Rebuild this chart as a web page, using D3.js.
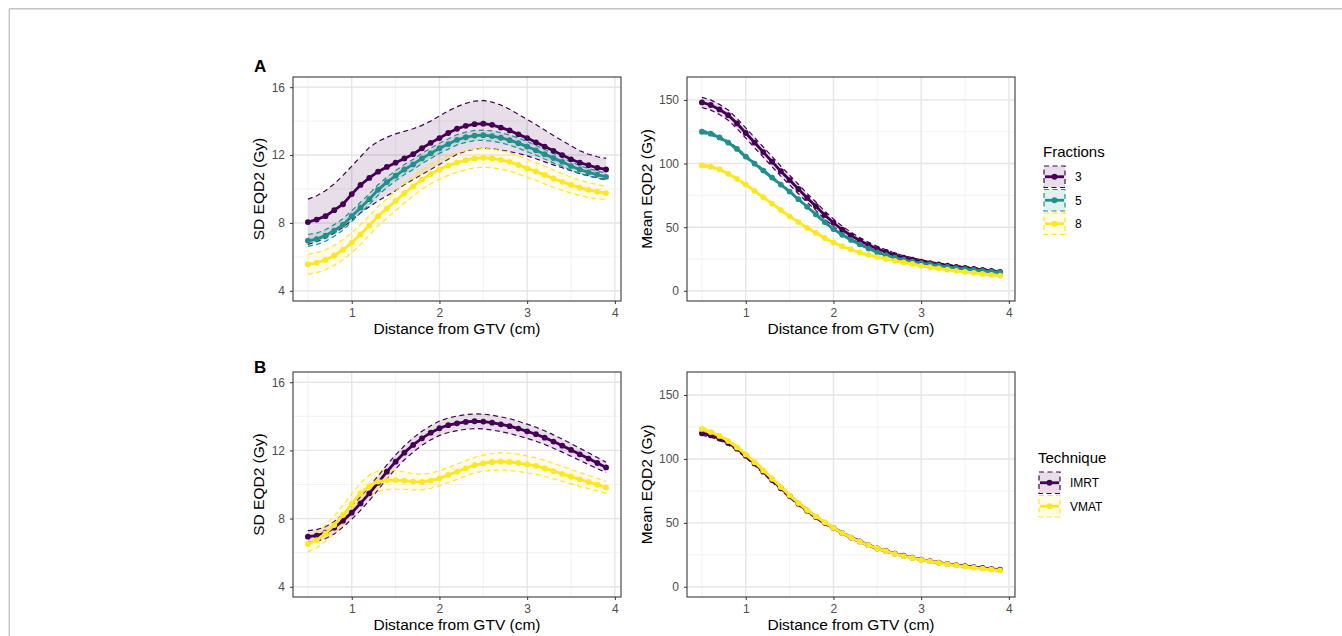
<!DOCTYPE html>
<html><head><meta charset="utf-8">
<script src="https://cdn.jsdelivr.net/npm/d3@7"></script>
<style>
html,body{margin:0;padding:0;background:#fff;}
svg{display:block;font-family:"Liberation Sans",Arial,sans-serif;}
</style></head>
<body><svg id="chart" width="1342" height="636"></svg>
<script>
// ---------- data ----------
const distance = [0.5,0.6,0.7,0.8,0.9,1.0,1.1,1.2,1.3,1.4,1.5,1.6,1.7,1.8,1.9,2.0,2.1,2.2,2.3,2.4,2.5,2.6,2.7,2.8,2.9,3.0,3.1,3.2,3.3,3.4,3.5,3.6,3.7,3.8,3.9];
const xTicks = [1,2,3,4];
const sdTicks = [4,8,12,16];
const meanTicks = [0,50,100,150];
const fractionLabels = ["3","5","8"];
const techniqueLabels = ["IMRT","VMAT"];

// Panel A left: SD EQD2 by fractions
const sdMean3 = [8.05,8.2,8.4,8.75,9.1,9.7,10.24,10.65,11.02,11.3,11.55,11.8,12.05,12.4,12.72,13.0,13.3,13.55,13.72,13.82,13.85,13.78,13.62,13.45,13.22,13.0,12.75,12.5,12.25,12.0,11.75,11.55,11.4,11.25,11.15];
const sdHi3 = [9.4,9.6,9.9,10.3,10.8,11.35,11.9,12.45,12.8,13.05,13.25,13.4,13.55,13.75,14.0,14.3,14.6,14.85,15.05,15.18,15.22,15.12,14.95,14.7,14.4,14.1,13.8,13.47,13.15,12.85,12.55,12.25,12.05,11.9,11.8];
const sdLo3 = [6.73,6.9,7.1,7.4,7.75,8.15,8.6,8.95,9.3,9.6,9.9,10.25,10.55,10.85,11.15,11.45,11.75,12.05,12.22,12.35,12.4,12.37,12.3,12.2,12.1,11.95,11.78,11.6,11.42,11.25,11.08,10.9,10.78,10.65,10.55];
const sdMean5 = [6.95,7.05,7.25,7.55,7.9,8.4,8.9,9.4,9.95,10.4,10.78,11.15,11.45,11.8,12.1,12.4,12.65,12.9,13.05,13.15,13.17,13.12,13.02,12.88,12.7,12.5,12.28,12.05,11.82,11.6,11.35,11.15,10.98,10.85,10.72];
const sdHi5 = [7.32,7.4,7.6,7.9,8.25,8.72,9.22,9.72,10.25,10.7,11.08,11.45,11.75,12.1,12.4,12.7,12.95,13.2,13.35,13.45,13.47,13.42,13.32,13.18,13.0,12.8,12.57,12.33,12.1,11.86,11.6,11.38,11.2,11.06,10.94];
const sdLo5 = [6.62,6.72,6.92,7.22,7.57,8.08,8.58,9.08,9.63,10.08,10.48,10.85,11.15,11.5,11.8,12.1,12.35,12.6,12.75,12.85,12.87,12.82,12.72,12.58,12.4,12.2,11.99,11.77,11.54,11.34,11.1,10.92,10.76,10.64,10.5];
const sdMean8 = [5.56,5.65,5.82,6.08,6.42,6.83,7.32,7.85,8.4,8.85,9.3,9.75,10.15,10.55,10.88,11.15,11.38,11.55,11.7,11.8,11.84,11.8,11.72,11.6,11.42,11.22,11.03,10.83,10.62,10.42,10.24,10.08,9.95,9.85,9.76];
const sdHi8 = [6.15,6.25,6.42,6.68,7.02,7.42,7.9,8.42,8.97,9.42,9.87,10.32,10.72,11.12,11.45,11.72,11.95,12.12,12.26,12.36,12.39,12.35,12.27,12.14,11.96,11.76,11.55,11.34,11.12,10.9,10.7,10.52,10.38,10.26,10.15];
const sdLo8 = [4.98,5.07,5.24,5.5,5.84,6.24,6.74,7.28,7.83,8.28,8.73,9.18,9.58,9.98,10.31,10.58,10.8,10.98,11.14,11.24,11.28,11.25,11.17,11.06,10.88,10.68,10.5,10.3,10.1,9.92,9.76,9.62,9.5,9.43,9.37];

// Panel A right: Mean EQD2 by fractions
const mnMean3 = [148,146,142.5,138,131.5,124,116.5,109,101.5,94,87,80,73,66.5,59.5,53.5,48,43.5,39.5,36,33,30.5,28,26,24.5,23,21.8,20.7,19.7,18.8,18,17.2,16.4,15.6,14.8];
const mnHi3 = [152,150,146.5,142,135.5,128,120.5,113,105.5,97.9,90.8,83.7,76.5,69.8,62.6,56.4,50.7,46,41.8,38.1,34.9,32.3,29.7,27.6,26,24.4,23.1,21.9,20.9,19.9,19.1,18.2,17.4,16.6,15.8];
const mnLo3 = [144,142,138.5,134,127.5,120,112.5,105,97.5,90.1,83.2,76.3,69.5,63.2,56.4,50.6,45.3,41,37.2,33.9,31.1,28.7,26.3,24.4,23,21.6,20.5,19.5,18.5,17.7,16.9,16.2,15.4,14.6,13.8];
const mnMean5 = [125,123.5,120.5,116.5,111.5,105.5,100,94.5,89,83.5,78,72,66,60,54,48.5,44,40,36.5,33.2,30.2,28,26,24.4,23,21.8,20.7,19.7,18.8,17.9,17.1,16.4,15.7,15.1,14.5];
const mnHi5 = [126.2,124.7,121.7,117.7,112.6,106.6,101.1,95.5,90,84.4,78.9,72.9,66.8,60.8,54.8,49.2,44.7,40.6,37.1,33.8,30.8,28.5,26.5,24.9,23.5,22.3,21.2,20.2,19.3,18.4,17.6,16.8,16.1,15.5,14.9];
const mnLo5 = [123.8,122.3,119.3,115.3,110.4,104.4,98.9,93.5,88,82.6,77.1,71.1,65.2,59.2,53.2,47.8,43.3,39.4,35.9,32.6,29.6,27.5,25.5,23.9,22.5,21.3,20.2,19.2,18.3,17.4,16.6,16,15.3,14.7,14.1];
const mnMean8 = [98.5,97.5,95.5,92,88,83.5,78.5,73.5,68.5,63.5,58.5,54,49.5,45.5,41.5,38,35,32.5,30.2,28.2,26.5,25,23.6,22.3,21.1,19.6,18.6,17.6,16.6,15.7,14.9,14.1,13.3,12.6,11.9];
const mnHi8 = [99.4,98.4,96.4,92.9,88.9,84.4,79.3,74.3,69.3,64.3,59.3,54.8,50.2,46.2,42.2,38.7,35.6,33.1,30.8,28.8,27.1,25.6,24.2,22.9,21.7,20.2,19.2,18.2,17.2,16.3,15.5,14.7,13.9,13.2,12.5];
const mnLo8 = [97.6,96.6,94.6,91.1,87.1,82.6,77.7,72.7,67.7,62.7,57.7,53.2,48.8,44.8,40.8,37.3,34.4,31.9,29.6,27.6,25.9,24.4,23,21.7,20.5,19,18,17,16,15.1,14.3,13.5,12.7,12,11.3];

// Panel B left: SD EQD2 by technique
const sdMeanImrt = [6.94,7.0,7.17,7.47,7.88,8.35,8.89,9.48,10.1,10.75,11.34,11.87,12.32,12.71,13.04,13.3,13.48,13.59,13.67,13.71,13.69,13.63,13.53,13.42,13.28,13.12,12.95,12.75,12.52,12.28,12.03,11.77,11.52,11.26,11.0];
const sdHiImrt = [7.29,7.35,7.52,7.83,8.25,8.73,9.28,9.88,10.5,11.15,11.74,12.27,12.73,13.12,13.45,13.72,13.9,14.02,14.1,14.14,14.13,14.07,13.97,13.86,13.71,13.54,13.36,13.15,12.91,12.66,12.4,12.13,11.86,11.58,11.31];
const sdLoImrt = [6.62,6.67,6.82,7.1,7.5,7.96,8.48,9.06,9.68,10.33,10.92,11.45,11.9,12.3,12.62,12.88,13.05,13.16,13.24,13.28,13.26,13.2,13.1,12.99,12.85,12.7,12.54,12.35,12.13,11.9,11.66,11.41,11.17,10.93,10.7];
const sdMeanVmat = [6.51,6.74,7.13,7.62,8.21,8.86,9.48,9.91,10.17,10.26,10.26,10.23,10.17,10.15,10.23,10.36,10.56,10.75,10.95,11.13,11.24,11.32,11.34,11.32,11.26,11.18,11.09,10.95,10.79,10.62,10.46,10.3,10.15,9.99,9.83];
const sdHiVmat = [6.94,7.2,7.62,8.15,8.78,9.45,10.1,10.55,10.8,10.86,10.82,10.74,10.64,10.6,10.67,10.8,11.0,11.2,11.4,11.6,11.72,11.82,11.86,11.84,11.78,11.68,11.56,11.41,11.24,11.06,10.88,10.7,10.53,10.36,10.18];
const sdLoVmat = [6.05,6.28,6.66,7.12,7.68,8.3,8.9,9.32,9.58,9.7,9.72,9.72,9.69,9.69,9.78,9.92,10.12,10.3,10.5,10.68,10.78,10.84,10.85,10.82,10.76,10.68,10.6,10.47,10.33,10.18,10.04,9.89,9.76,9.62,9.48];

// Panel B right: Mean EQD2 by technique
const mnMeanImrt = [120,118.5,116,112.5,108,102.5,96.5,90,83.5,77,71,65,59.5,54.5,50,46,42,38.5,35.5,32.5,30,28,26,24.3,22.7,21.3,20,18.9,17.9,17,16.2,15.4,14.7,14,13.3];
const mnHiImrt = [121.5,120,117.5,114,109.5,104,98,91.5,85,78.5,72.4,66.4,60.8,55.7,51.1,47,43,39.4,36.3,33.3,30.7,28.7,26.7,25,23.3,21.9,20.6,19.5,18.5,17.6,16.8,16,15.3,14.6,13.9];
const mnLoImrt = [118.5,117,114.5,111,106.5,101,95,88.5,82,75.5,69.6,63.6,58.2,53.3,48.9,45,41,37.6,34.7,31.7,29.3,27.3,25.3,23.6,22.1,20.7,19.4,18.3,17.3,16.4,15.6,14.8,14.1,13.4,12.7];
const mnMeanVmat = [123.5,121,118,114,109,103.5,97.5,91,84.5,78,71.5,65.5,60,55,50.5,46,42,38.5,35.3,32.5,30,27.8,25.8,24,22.5,21,19.8,18.7,17.6,16.7,15.8,15,14.2,13.5,12.8];
const mnHiVmat = [125,122.5,119.5,115.5,110.5,105,99,92.5,86,79.5,72.9,66.9,61.3,56.2,51.6,47,43,39.4,36.1,33.3,30.7,28.5,26.5,24.7,23.1,21.6,20.4,19.3,18.2,17.3,16.4,15.6,14.8,14.1,13.4];
const mnLoVmat = [122,119.5,116.5,112.5,107.5,102,96,89.5,83,76.5,70.1,64.1,58.7,53.8,49.4,45,41,37.6,34.5,31.7,29.3,27.1,25.1,23.3,21.9,20.4,19.2,18.1,17,16.1,15.2,14.4,13.6,12.9,12.2];

// ---------- styling ----------
const C3 = "#440154", C5 = "#21908C", C8 = "#FDE725";
const svg = d3.select("#chart");

// outer frame
svg.append("line").attr("x1",9.3).attr("x2",1342).attr("y1",8.8).attr("y2",8.8).attr("stroke","#c4c4c4").attr("stroke-width",1.4);
svg.append("line").attr("x1",9.3).attr("x2",9.3).attr("y1",8.8).attr("y2",636).attr("stroke","#c4c4c4").attr("stroke-width",1.4);

function panel(cfg){
  const {x0,x1,y0,y1,yDomain,yTicks,yMinor,series,yTitle,yTitleX} = cfg;
  const g = svg.append("g");
  const x = d3.scaleLinear().domain([0.33,4.07]).range([x0,x1]);
  const y = d3.scaleLinear().domain(yDomain).range([y1,y0]);
  g.append("rect").attr("x",x0).attr("y",y0).attr("width",x1-x0).attr("height",y1-y0).attr("fill","#fff");
  [0.5,1.5,2.5,3.5].forEach(v=>g.append("line").attr("x1",x(v)).attr("x2",x(v)).attr("y1",y0).attr("y2",y1).attr("stroke","#efefef").attr("stroke-width",0.8));
  yMinor.forEach(v=>g.append("line").attr("x1",x0).attr("x2",x1).attr("y1",y(v)).attr("y2",y(v)).attr("stroke","#efefef").attr("stroke-width",0.8));
  xTicks.forEach(v=>g.append("line").attr("x1",x(v)).attr("x2",x(v)).attr("y1",y0).attr("y2",y1).attr("stroke","#e6e6e6").attr("stroke-width",1.4));
  yTicks.forEach(v=>g.append("line").attr("x1",x0).attr("x2",x1).attr("y1",y(v)).attr("y2",y(v)).attr("stroke","#e6e6e6").attr("stroke-width",1.4));

  const pts = s => distance.map((d,i)=>({x:d, m:s.mean[i], lo:s.lo[i], hi:s.hi[i]}));
  const area = d3.area().x(d=>x(d.x)).y0(d=>y(d.lo)).y1(d=>y(d.hi));
  const lineM = d3.line().x(d=>x(d.x)).y(d=>y(d.m));
  const lineLo = d3.line().x(d=>x(d.x)).y(d=>y(d.lo));
  const lineHi = d3.line().x(d=>x(d.x)).y(d=>y(d.hi));
  series.forEach(s=>{
    const p = pts(s);
    g.append("path").attr("d",area(p)).attr("fill",s.color).attr("fill-opacity",0.13);
    [lineLo,lineHi].forEach(l=>g.append("path").attr("d",l(p)).attr("fill","none").attr("stroke",s.color).attr("stroke-width",1.2).attr("stroke-dasharray","5,3.5"));
  });
  series.forEach(s=>{
    const p = pts(s);
    g.append("path").attr("d",lineM(p)).attr("fill","none").attr("stroke",s.color).attr("stroke-width",2.8);
    g.selectAll(null).data(p).enter().append("circle").attr("cx",d=>x(d.x)).attr("cy",d=>y(d.m)).attr("r",2.9).attr("fill",s.color);
  });
  g.append("rect").attr("x",x0).attr("y",y0).attr("width",x1-x0).attr("height",y1-y0).attr("fill","none").attr("stroke","#3a3a3a").attr("stroke-width",1.1);
  const xa = g.append("g").attr("transform",`translate(0,${y1})`).call(d3.axisBottom(x).tickValues(xTicks).tickSize(3).tickPadding(4).tickFormat(d3.format("d")));
  const ya = g.append("g").attr("transform",`translate(${x0},0)`).call(d3.axisLeft(y).tickValues(yTicks).tickSize(3).tickPadding(5).tickFormat(d3.format("d")));
  [xa,ya].forEach(a=>{
    a.select(".domain").remove();
    a.selectAll(".tick line").attr("stroke","#333").attr("stroke-width",1);
    a.selectAll(".tick text").attr("fill","#4d4d4d").style("font-size","12px").style("font-family","'Liberation Sans',Arial,sans-serif");
  });
  g.append("text").attr("x",(x0+x1)/2).attr("y",y1+33).attr("text-anchor","middle").style("font-size","15.5px").attr("fill","#000").text("Distance from GTV (cm)");
  g.append("text").attr("transform",`translate(${yTitleX},${(y0+y1)/2}) rotate(-90)`).attr("text-anchor","middle").style("font-size","15.5px").attr("fill","#000").text(yTitle);
}

const sdDomain = [3.4,16.6], mnDomain = [-8,168];
panel({x0:293,x1:621,y0:77,y1:301,yDomain:sdDomain,yTicks:sdTicks,yMinor:[6,10,14],yTitle:"SD EQD2 (Gy)",yTitleX:264,
  series:[{color:C3,mean:sdMean3,lo:sdLo3,hi:sdHi3},{color:C5,mean:sdMean5,lo:sdLo5,hi:sdHi5},{color:C8,mean:sdMean8,lo:sdLo8,hi:sdHi8}]});
panel({x0:687,x1:1015,y0:77,y1:301,yDomain:mnDomain,yTicks:meanTicks,yMinor:[25,75,125],yTitle:"Mean EQD2 (Gy)",yTitleX:652,
  series:[{color:C3,mean:mnMean3,lo:mnLo3,hi:mnHi3},{color:C5,mean:mnMean5,lo:mnLo5,hi:mnHi5},{color:C8,mean:mnMean8,lo:mnLo8,hi:mnHi8}]});
panel({x0:293,x1:621,y0:372,y1:597,yDomain:sdDomain,yTicks:sdTicks,yMinor:[6,10,14],yTitle:"SD EQD2 (Gy)",yTitleX:264,
  series:[{color:C3,mean:sdMeanImrt,lo:sdLoImrt,hi:sdHiImrt},{color:C8,mean:sdMeanVmat,lo:sdLoVmat,hi:sdHiVmat}]});
panel({x0:687,x1:1015,y0:372,y1:597,yDomain:mnDomain,yTicks:meanTicks,yMinor:[25,75,125],yTitle:"Mean EQD2 (Gy)",yTitleX:652,
  series:[{color:C3,mean:mnMeanImrt,lo:mnLoImrt,hi:mnHiImrt},{color:C8,mean:mnMeanVmat,lo:mnLoVmat,hi:mnHiVmat}]});

svg.append("text").attr("x",254).attr("y",72).style("font-size","17px").style("font-weight","bold").text("A");
svg.append("text").attr("x",254).attr("y",373).style("font-size","17px").style("font-weight","bold").text("B");

function legend(lx, ty, title, labels, colors){
  const g = svg.append("g");
  g.append("text").attr("x",lx).attr("y",ty).style("font-size","15px").text(title);
  labels.forEach((lab,i)=>{
    const ky = ty + 8 + i*23.5;
    g.append("rect").attr("x",lx+1).attr("y",ky+1).attr("width",21).attr("height",21.5)
      .attr("fill",colors[i]).attr("fill-opacity",0.13).attr("stroke",colors[i]).attr("stroke-width",1.2).attr("stroke-dasharray","5,3.5");
    g.append("line").attr("x1",lx+2).attr("x2",lx+21).attr("y1",ky+11.75).attr("y2",ky+11.75).attr("stroke",colors[i]).attr("stroke-width",2.8);
    g.append("circle").attr("cx",lx+11.5).attr("cy",ky+11.75).attr("r",2.9).attr("fill",colors[i]);
    g.append("text").attr("x",lx+32).attr("y",ky+11.75).attr("dy","0.36em").style("font-size","12px").text(lab);
  });
}
legend(1043,157,"Fractions",fractionLabels,[C3,C5,C8]);
legend(1038,463,"Technique",techniqueLabels,[C3,C8]);
</script></body></html>
